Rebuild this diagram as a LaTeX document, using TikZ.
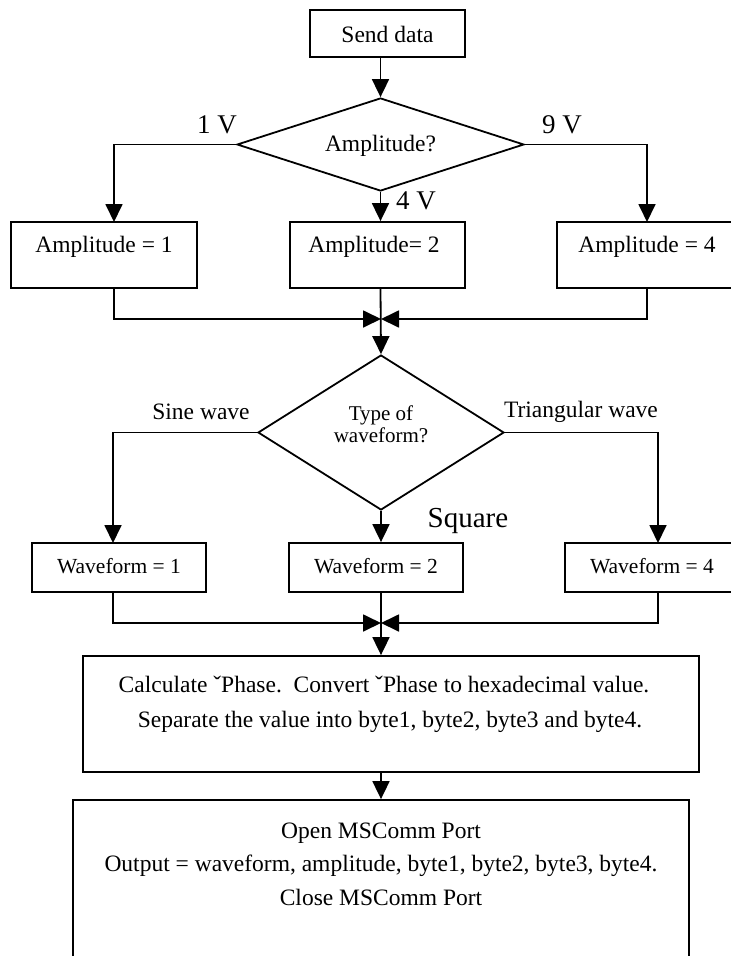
\documentclass[tikz,border=0pt]{standalone}
\usepackage{fontspec}
\setmainfont{Liberation Serif}
\usetikzlibrary{arrows.meta,shapes.geometric,calc}
\tikzset{
  box/.style={draw, line width=1.8pt, rectangle, inner sep=0pt},
  dia/.style={draw, line width=1.8pt, diamond, inner sep=0pt},
  arr/.style={line width=1.8pt, -{Triangle[length=18pt,width=17pt]}},
  tA/.style={font=\fontsize{23.5}{26}\selectfont, inner sep=0pt},
  tW/.style={font=\fontsize{21.5}{24}\selectfont, inner sep=0pt},
  tV/.style={font=\fontsize{27}{30}\selectfont, inner sep=0pt},
  tQ/.style={font=\fontsize{21}{22}\selectfont, inner sep=0pt, align=center},
  tS/.style={font=\fontsize{29}{32}\selectfont, inner sep=0pt},
}
\begin{document}
\begin{tikzpicture}[x=1pt,y=-1pt]
\useasboundingbox (0,0) rectangle (731,956);
\clip (0,0) rectangle (731,956);
% boxes and diamonds
\node[box, minimum width=155, minimum height=47] (send) at (387.5,33.5) {};
\node[tA] (sendt) at (387.5,34) {Send data};
\node[dia, minimum width=287, minimum height=93] (d1) at (380.5,144.5) {};
\node[tA] (d1t) at (380.5,146) {Amplitude?};
\node[box, minimum width=186, minimum height=66] (a1) at (104,255) {};
\node[box, minimum width=175, minimum height=66] (a2) at (377.5,255) {};
\node[box, minimum width=186, minimum height=66] (a3) at (650,255) {};
\node[tA] (a1t) at (104,247) {Amplitude = 1};
\node[tA] (a2t) at (374,247) {Amplitude= 2};
\node[tA] (a3t) at (647,247) {Amplitude = 4};
\node[dia, minimum width=246, minimum height=155] (d2) at (381,432.5) {};
\node[tQ] (d2t) at (381,424) {Type of\\waveform?};
\node[box, minimum width=174, minimum height=49] (w1) at (119,567.5) {};
\node[box, minimum width=174, minimum height=49] (w2) at (376,567.5) {};
\node[box, minimum width=180, minimum height=49] (w3) at (655,567.5) {};
\node[tW] (w1t) at (119,566) {Waveform = 1};
\node[tW] (w2t) at (376,566) {Waveform = 2};
\node[tW] (w3t) at (652,566) {Waveform = 4};
\node[box, minimum width=616, minimum height=116] (calc) at (391,714) {};
\node[tA] (c1) at (384,684) {Calculate ˇPhase.\ \ Convert ˇPhase to hexadecimal value.};
\node[tA] (c2) at (390,722) {Separate the value into byte1, byte2, byte3 and byte4.};
\node[box, minimum width=616, minimum height=180] (open) at (381,890) {};
\node[tA] (o1) at (381,833) {Open MSComm Port};
\node[tA] (o2) at (381,866) {Output = waveform, amplitude, byte1, byte2, byte3, byte4.};
\node[tA] (o3) at (381,897) {Close MSComm Port};
% labels
\node[tV] (l1) at (217,125) {1 V};
\node[tV] (l9) at (562,125) {9 V};
\node[tV] (l4) at (416,201) {4 V};
\node[tA] (ls) at (201,412) {Sine wave};
\node[tA] (lt) at (581,412) {Triangular wave};
\node[tS] (lq) at (468,521) {Square};
% helper coordinates
\coordinate (A1in) at (114,222);
\coordinate (A3in) at (647,222);
\coordinate (A1out) at (114,288);
\coordinate (A3out) at (647,288);
\coordinate (M1) at (381,319);
\coordinate (W1in) at (113,543);
\coordinate (W3in) at (658,543);
\coordinate (W1out) at (113,592);
\coordinate (W3out) at (658,592);
\coordinate (M2) at (381,623);
% connectors
\draw[arr] (send.south -| d1.north) -- (d1.north);
\draw[arr] (d1.west) -| (A1in);
\draw[arr] (d1.east) -| (A3in);
\draw[arr] (d1.south) -- (d1.south |- a2.north);
\draw[arr] (A1out) |- (M1);
\draw[arr] (A3out) |- (M1);
\draw[arr] (d1.south |- a2.south) -- (d2.north);
\draw[arr] (d2.west) -| (W1in);
\draw[arr] (d2.east) -| (W3in);
\draw[arr] (d2.south) -- (d2.south |- w2.north);
\draw[arr] (W1out) |- (M2);
\draw[arr] (W3out) |- (M2);
\draw[arr] (d2.south |- w2.south) -- (d2.south |- calc.north);
\draw[arr] (d2.south |- calc.south) -- (d2.south |- open.north);
\end{tikzpicture}
\end{document}
